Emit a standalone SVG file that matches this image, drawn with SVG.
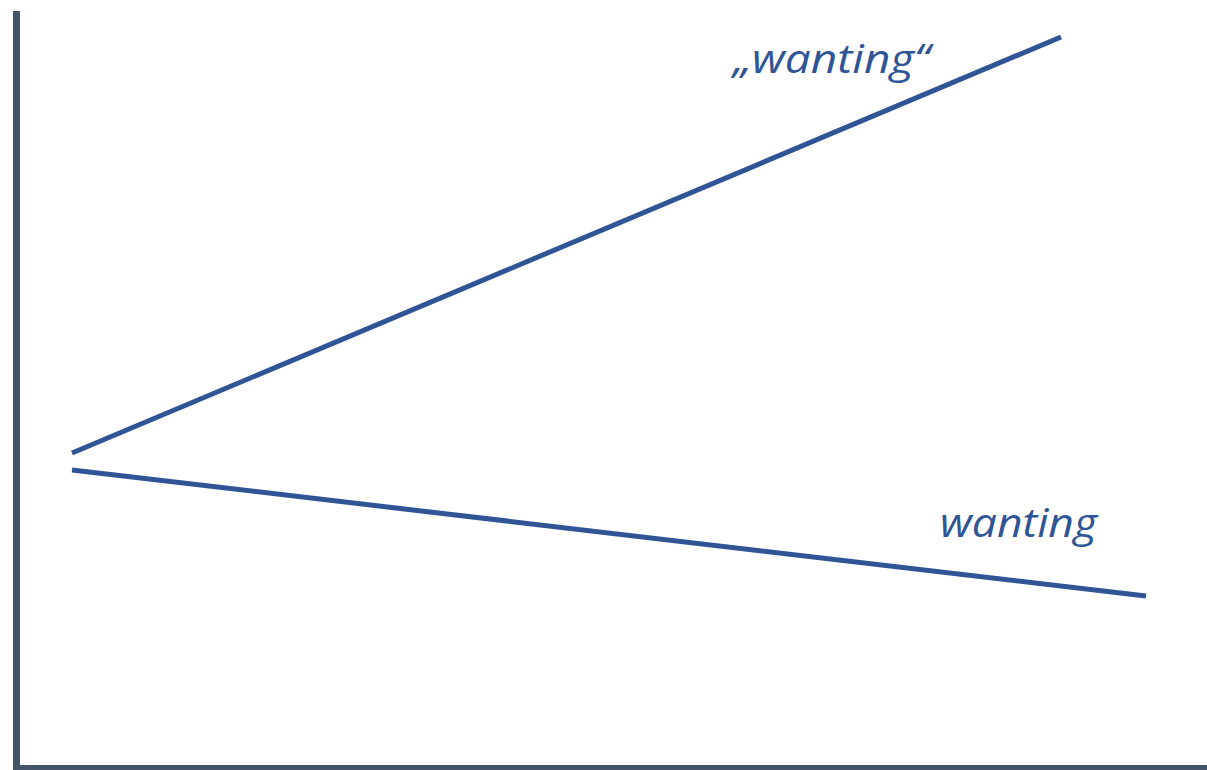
<svg xmlns="http://www.w3.org/2000/svg" width="1207" height="770" viewBox="0 0 1207 770">
<style>
.axis{stroke:#44546A;stroke-width:7;fill:none}
.line{stroke:#2F5597;stroke-width:5;fill:none}
.lbl{font-family:"Open Sans","Liberation Sans",sans-serif;font-style:italic;font-size:40px;fill:#2F5597}
</style>
<rect width="1207" height="770" fill="#fff"/>
<g id="axes">
<line class="axis" x1="16.5" y1="11" x2="16.5" y2="770"/>
<line class="axis" x1="13" y1="768.5" x2="1207" y2="768.5"/>
</g>
<g id="connectors">
<line class="line" x1="72" y1="453" x2="1061" y2="37"/>
<line class="line" x1="72" y1="470" x2="1146" y2="596"/>
</g>
<g id="label-upper"><text class="lbl" x="733" y="73" textLength="197" lengthAdjust="spacingAndGlyphs">„wanting“</text></g>
<g id="label-lower"><text class="lbl" x="940" y="537" textLength="157" lengthAdjust="spacingAndGlyphs">wanting</text></g>
</svg>
